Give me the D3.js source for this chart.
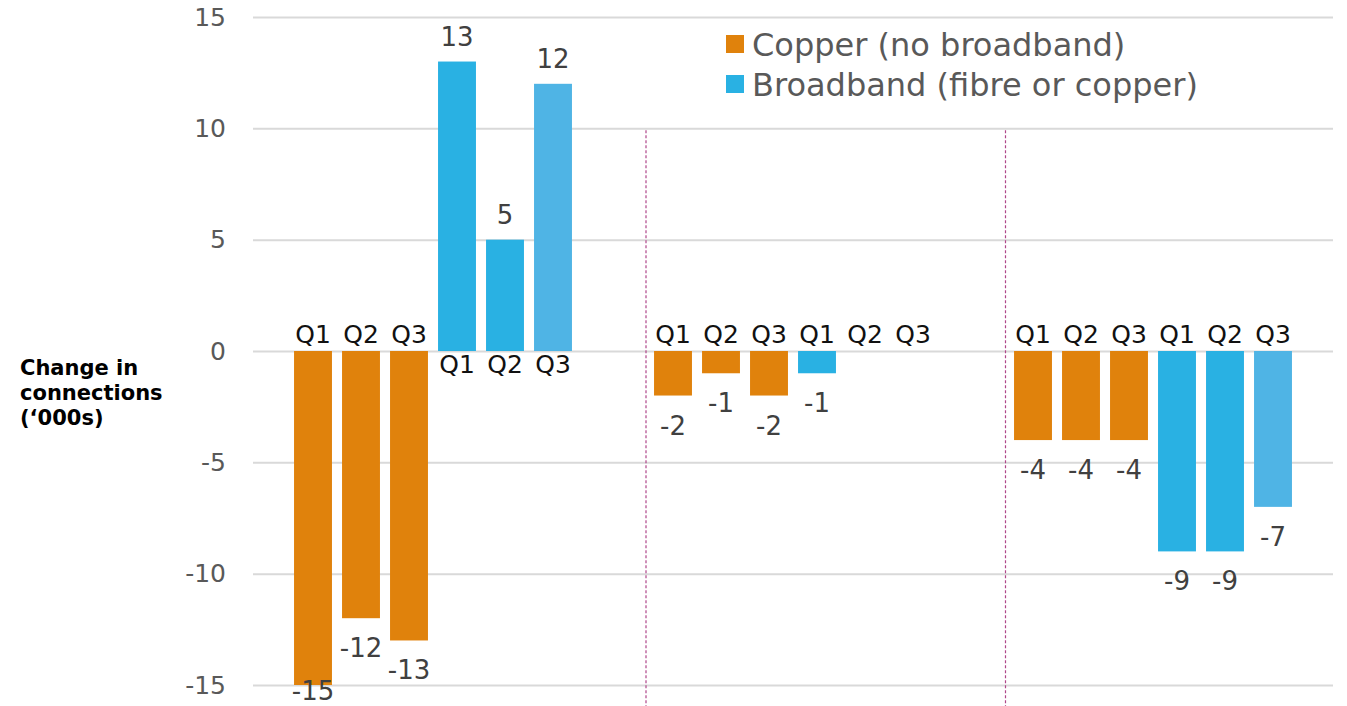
<!DOCTYPE html>
<html>
<head>
<meta charset="utf-8">
<script src="https://cdn.jsdelivr.net/npm/d3@7"></script>
<style>
  body { margin: 0; background: #fff; }
  text { font-family: "DejaVu Sans", Verdana, sans-serif; }
</style>
</head>
<body>
<svg id="chart"></svg>
<script>
const width = 1347;
const height = 706;
const margin = { top: 17, right: 14, bottom: 21, left: 253 };

// three periods, each with copper and broadband quarters
const groups = ["P1", "P2", "P3"];
const quarters = ["Q1", "Q2", "Q3"];
const seriesNames = ["Copper (no broadband)", "Broadband (fibre or copper)"];
const copperValues = [[-15, -12, -13], [-2, -1, -2], [-4, -4, -4]];
const broadbandValues = [[13, 5, 12], [-1, 0, 0], [-9, -9, -7]];
const yTicks = [-15, -10, -5, 0, 5, 10, 15];

const colors = { copper: "#E0820C", broadband: "#29B1E3", broadbandQ3: "#4FB4E5" };

const bars = [];
groups.forEach((g, gi) => {
    quarters.forEach((q, qi) => bars.push({ group: g, slot: "c" + q, quarter: q, series: "copper", value: copperValues[gi][qi] }));
    quarters.forEach((q, qi) => bars.push({ group: g, slot: "b" + q, quarter: q, series: "broadband", value: broadbandValues[gi][qi] }));
});
const slots = ["cQ1", "cQ2", "cQ3", "bQ1", "bQ2", "bQ3"];

const svg = d3.select("#chart").attr("width", width).attr("height", height);

const x0 = d3.scaleBand()
    .domain(groups)
    .range([margin.left, width - margin.right]);

const x1 = d3.scaleBand()
    .domain(slots)
    .range([0, x0.bandwidth()])
    .paddingInner(0.21)
    .paddingOuter(0.855);

const y = d3.scaleLinear()
    .domain([-15, 15])
    .range([height - margin.bottom, margin.top]);

// gridlines + tick labels
const yAxis = svg.append("g")
    .attr("transform", `translate(${margin.left},0)`)
    .call(d3.axisLeft(y)
        .tickValues(yTicks)
        .tickFormat(d => String(d))
        .tickSize(-(width - margin.left - margin.right))
        .tickPadding(27));
yAxis.select(".domain").remove();
yAxis.selectAll(".tick line").attr("stroke", "#D9D9D9").attr("stroke-width", 2);
yAxis.selectAll(".tick text")
    .attr("fill", "#595959")
    .style("font-size", "25px")
    .style("font-family", "DejaVu Sans");

// dashed dividers between periods
const dividers = [{ x: 646, top: 10 }, { x: 1005.5, top: 10 }];
svg.selectAll(".divider")
    .data(dividers)
    .enter().append("line")
    .attr("class", "divider")
    .attr("x1", d => d.x).attr("x2", d => d.x)
    .attr("y1", d => y(d.top) + 2).attr("y2", height)
    .attr("stroke", "#B0478A")
    .attr("stroke-width", 1.2)
    .attr("stroke-dasharray", "3,2");

const barX = d => x0(d.group) + x1(d.slot);

svg.selectAll(".bar")
    .data(bars.filter(d => d.value !== 0))
    .enter().append("rect")
    .attr("class", "bar")
    .attr("x", barX)
    .attr("y", d => y(Math.max(0, d.value)))
    .attr("width", x1.bandwidth())
    .attr("height", d => Math.abs(y(d.value) - y(0)))
    .attr("fill", d => d.series === "copper" ? colors.copper : (d.quarter === "Q3" ? colors.broadbandQ3 : colors.broadband));

// quarter labels on the opposite side of zero
svg.selectAll(".qlabel")
    .data(bars)
    .enter().append("text")
    .attr("class", "qlabel")
    .attr("x", d => barX(d) + x1.bandwidth() / 2)
    .attr("y", d => d.value > 0 ? y(0) + 22 : y(0) - 8)
    .attr("text-anchor", "middle")
    .attr("fill", "#111")
    .style("font-size", "25px")
    .text(d => d.quarter);

// value labels
svg.selectAll(".vlabel")
    .data(bars.filter(d => d.value !== 0))
    .enter().append("text")
    .attr("class", "vlabel")
    .attr("x", d => barX(d) + x1.bandwidth() / 2)
    .attr("y", d => d.value > 0 ? y(d.value) - 16 : Math.min(y(d.value) + 39, 700))
    .attr("text-anchor", "middle")
    .attr("fill", "#404040")
    .style("font-size", "26px")
    .text(d => d.value);

// y axis title
svg.append("text")
    .attr("x", 20)
    .attr("y", 375)
    .style("font-size", "21px")
    .style("font-weight", "bold")
    .attr("fill", "#000")
    .selectAll("tspan")
    .data(["Change in", "connections", "(\u2018000s)"])
    .enter().append("tspan")
    .attr("x", 20)
    .attr("dy", (d, i) => i === 0 ? 0 : 25)
    .text(d => d);

// legend
const legend = svg.append("g").attr("transform", "translate(726,44)");
const legendItems = legend.selectAll(".legend-item")
    .data(seriesNames)
    .enter().append("g")
    .attr("class", "legend-item")
    .attr("transform", (d, i) => `translate(0,${i * 40})`);
legendItems.append("rect")
    .attr("x", 0).attr("y", -9)
    .attr("width", 18).attr("height", 18)
    .attr("fill", (d, i) => i === 0 ? colors.copper : colors.broadband);
legendItems.append("text")
    .attr("x", 26)
    .attr("dy", "0.36em")
    .attr("fill", "#595959")
    .style("font-size", "32px")
    .text(d => d);
</script>
</body>
</html>
